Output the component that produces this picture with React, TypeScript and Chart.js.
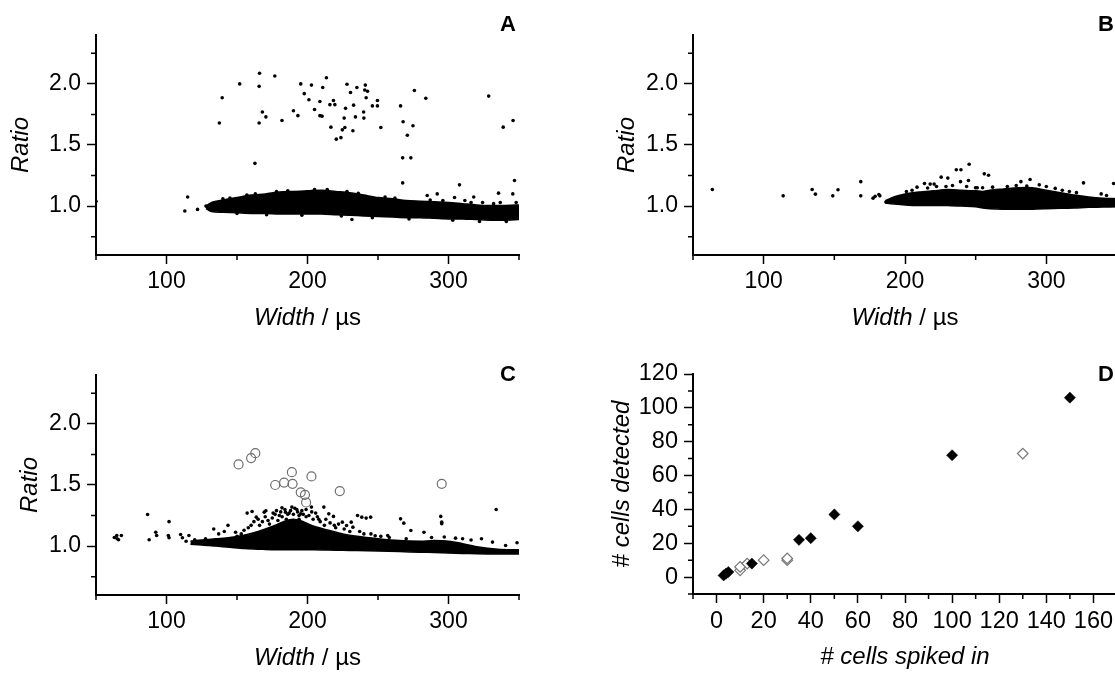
import { useEffect, useRef } from "react";
import { Chart, registerables } from "chart.js";

Chart.register(...registerables);

type Pt = [number, number];

// ---------- shared tick values ----------
const widthTicks = [100, 200, 300];
const widthMinor = [50, 150, 250, 350];
const ratioTicks = [1.0, 1.5, 2.0];
const ratioMinor = [0.75, 1.25, 1.75, 2.25];
const spikedTicks = [0, 20, 40, 60, 80, 100, 120, 140, 160];
const spikedMinor = [-10, 10, 30, 50, 70, 90, 110, 130, 150, 170];
const detectedTicks = [0, 20, 40, 60, 80, 100, 120];
const detectedMinor = [-10, 10, 30, 50, 70, 90, 110];

// ---------- Panel A ----------
const aCoreX = [128, 132, 140, 150, 160, 170, 180, 190, 200, 210, 220, 230, 240, 250, 260, 270, 280, 290, 300, 310, 320, 330, 340, 350];
const aCoreUpper = [1.0, 1.03, 1.05, 1.07, 1.09, 1.1, 1.115, 1.12, 1.125, 1.13, 1.12, 1.11, 1.09, 1.07, 1.06, 1.045, 1.04, 1.035, 1.03, 1.02, 1.01, 1.005, 1.005, 1.01];
const aCoreLower = [0.98, 0.955, 0.95, 0.945, 0.94, 0.94, 0.935, 0.935, 0.935, 0.935, 0.93, 0.925, 0.92, 0.915, 0.91, 0.905, 0.905, 0.9, 0.895, 0.895, 0.89, 0.885, 0.885, 0.89];
const aPoints: Pt[] = [
  [50, 1.04], [113, 0.96], [115, 1.074], [122, 0.973], [137.5, 1.68], [139.5, 1.886], [151.9, 2.0], [162.7, 1.35],
  [165.7, 1.98], [165.7, 1.68], [166, 2.087], [168, 1.77], [170.5, 1.73], [176.8, 2.065], [181.9, 1.7], [190, 1.78],
  [193.2, 1.74], [195.2, 2.0], [197.7, 1.92], [201, 1.87], [202.8, 1.99], [205, 1.79], [208.8, 1.856], [208.8, 1.74],
  [210.3, 1.736], [210.8, 1.97], [213.4, 2.05], [215.9, 1.83], [216.6, 1.646], [218.4, 1.864], [219.4, 1.83],
  [220.4, 1.548], [223.7, 1.56], [224.7, 1.624], [226, 1.72], [226.5, 1.643], [227, 1.8], [228, 1.997], [230.5, 1.93],
  [231.5, 0.89], [232.2, 1.616], [232.7, 1.826], [234, 1.73], [235, 1.97], [239.8, 1.77], [240, 1.72], [240.6, 1.95],
  [241, 1.99], [241.6, 1.886], [242.6, 1.94], [246, 1.82], [249.6, 1.864], [249.6, 1.82], [252, 1.643], [266, 1.82],
  [267.5, 1.395], [267.5, 1.19], [267.8, 1.69], [270.8, 1.58], [273.3, 1.395], [274.8, 1.657], [275.8, 1.946],
  [283.9, 1.883], [284.9, 1.087], [292, 1.1], [304.3, 1.07], [307.8, 1.174], [311.6, 1.046], [317.9, 1.074],
  [324.2, 1.03], [328.5, 1.9], [335.5, 1.106], [336.7, 1.03], [338.8, 1.646], [345.6, 1.1], [345.8, 1.7], [346.8, 1.21],
  [128, 1.0], [131, 0.975], [133, 1.01], [140, 1.06], [145, 1.065], [150, 0.94], [157, 1.09], [163, 1.1], [171, 0.93],
  [178, 1.12], [186, 1.125], [196, 0.925], [205, 1.135], [214, 1.135], [224, 0.92], [228, 1.12], [236, 1.105],
  [246, 0.905], [255, 1.075], [262, 1.065], [272, 0.895], [287, 1.05], [296, 1.045], [303, 0.885], [316, 1.03],
  [322, 0.875], [332, 1.02], [341, 0.875], [348, 1.03],
];

// ---------- Panel B ----------
const bCoreX = [186, 190, 195, 200, 210, 220, 230, 240, 250, 255, 260, 270, 280, 290, 300, 310, 320, 330, 340, 350];
const bCoreUpper = [1.045, 1.065, 1.085, 1.1, 1.115, 1.125, 1.135, 1.13, 1.125, 1.12, 1.13, 1.14, 1.15, 1.15, 1.13, 1.11, 1.09, 1.075, 1.065, 1.06];
const bCoreLower = [1.025, 1.02, 1.015, 1.01, 1.005, 1.005, 1.005, 1.0, 0.995, 0.985, 0.978, 0.975, 0.975, 0.975, 0.978, 0.982, 0.985, 0.99, 0.992, 0.995];
const bPoints: Pt[] = [
  [63.7, 1.136], [113.8, 1.084], [134.3, 1.136], [136.6, 1.098], [148.9, 1.084], [152.6, 1.134], [168.7, 1.2],
  [168.7, 1.084], [177.4, 1.065], [178.9, 1.08], [181.5, 1.095], [182.2, 1.084], [186.5, 1.033], [189.7, 1.05],
  [192.2, 1.05], [213.8, 1.185], [217.8, 1.18], [220.6, 1.18], [225.6, 1.237], [230.3, 1.229], [236.3, 1.297],
  [239.6, 1.297], [245.4, 1.343], [239.3, 1.2], [244.9, 1.21], [256.1, 1.264], [259.1, 1.253], [282, 1.2],
  [288.5, 1.218], [326.3, 1.19], [347.6, 1.185], [249.9, 1.15], [208.5, 1.155], [216, 1.148], [222.3, 1.16],
  [233.6, 1.169], [243.6, 1.16], [251.1, 1.15], [254.9, 1.15], [272.4, 1.16], [278.7, 1.169], [286.2, 1.165],
  [295, 1.174], [306.3, 1.145], [311.3, 1.13], [316.3, 1.12], [321.3, 1.11], [338.8, 1.1], [342.6, 1.087],
  [201, 1.12], [205, 1.13], [229, 1.16], [262, 1.155], [300, 1.16],
];

// ---------- Panel C ----------
const cCoreX = [117, 125, 135, 145, 155, 165, 175, 183, 190, 197, 205, 215, 225, 235, 250, 265, 280, 290, 300, 310, 320, 335, 350];
const cCoreUpper = [1.04, 1.05, 1.06, 1.07, 1.09, 1.12, 1.16, 1.2, 1.22, 1.2, 1.16, 1.13, 1.1, 1.08, 1.06, 1.045, 1.04, 1.045, 1.04, 1.02, 0.995, 0.975, 0.97];
const cCoreLower = [1.015, 1.01, 1.0, 0.99, 0.98, 0.975, 0.97, 0.97, 0.97, 0.97, 0.97, 0.968, 0.966, 0.964, 0.96, 0.955, 0.95, 0.948, 0.944, 0.94, 0.938, 0.935, 0.935];
const cPoints: Pt[] = [
  [63, 1.071], [64.7, 1.087], [66, 1.052], [68, 1.087], [65, 1.06],
  [86.6, 1.259], [87.7, 1.052], [92.4, 1.114], [93, 1.087], [101.8, 1.2], [101.3, 1.087], [101.8, 1.068],
  [110, 1.095], [111.3, 1.068], [113.9, 1.04], [115.9, 1.087], [120, 1.052], [123.9, 1.033], [127.7, 1.06],
  [133.5, 1.14], [137, 1.1], [141, 1.12], [143.6, 1.17], [149, 1.114], [157.2, 1.27], [160.7, 1.283], [163.7, 1.237],
  [169.3, 1.278], [170.5, 1.289], [175.6, 1.27], [178, 1.29], [181.9, 1.313], [184.4, 1.278], [188.9, 1.319],
  [192.4, 1.3], [195.2, 1.264], [202.8, 1.319], [205.8, 1.27], [211.6, 1.319], [215.1, 1.264], [218.4, 1.243],
  [224.7, 1.196], [227.7, 1.169], [231, 1.196], [232.2, 1.155], [235.5, 1.25], [238.5, 1.237], [241.6, 1.229],
  [244.8, 1.237], [256.9, 1.087], [266, 1.223], [268.3, 1.188], [273.3, 1.128], [282.6, 1.114], [294.5, 1.243],
  [295.2, 1.196], [295.2, 1.183], [288, 1.07], [297, 1.075], [305, 1.065], [310, 1.06], [316, 1.05], [323.4, 1.06],
  [331.2, 1.033], [333.8, 1.3], [340.5, 1.005], [348.6, 1.027],
  [150, 1.08], [158, 1.15], [166, 1.17], [172, 1.21], [180, 1.25], [186, 1.26], [194, 1.25], [199, 1.24],
  [208, 1.22], [212, 1.17], [220, 1.15], [230, 1.12], [240, 1.1], [248, 1.085], [258, 1.07], [270, 1.06],
  [153, 1.1], [155, 1.13], [160, 1.17], [162, 1.2], [165, 1.22], [168, 1.2], [170, 1.24], [173, 1.18],
  [175, 1.23], [177, 1.26], [179, 1.21], [181, 1.28], [182, 1.24], [184, 1.3], [185, 1.22], [187, 1.27],
  [188, 1.29], [190, 1.26], [191, 1.31], [193, 1.28], [194, 1.22], [196, 1.29], [197, 1.26], [199, 1.3],
  [201, 1.25], [203, 1.28], [204, 1.22], [207, 1.24], [209, 1.2], [213, 1.22], [216, 1.19], [219, 1.17],
  [222, 1.18], [226, 1.14], [237, 1.12], [245, 1.1], [252, 1.08],
];
const cOpen: Pt[] = [
  [151.1, 1.668], [160, 1.72], [163, 1.76], [177.1, 1.5], [183.4, 1.52], [188.9, 1.605], [189.4, 1.51],
  [195.2, 1.44], [198.2, 1.42], [199, 1.357], [202.8, 1.57], [222.9, 1.45], [295.2, 1.51],
];

// ---------- Panel D ----------
const dFilled: Pt[] = [[3, 1], [4, 2], [5, 3], [15, 8], [35, 22], [40, 23], [50, 37], [60, 30], [100, 72], [150, 106]];
const dOpen: Pt[] = [[10, 4], [10, 6], [13, 8], [20, 10], [30, 10], [30, 11], [130, 73]];

// ---------- helpers ----------
const FONT = '"Liberation Sans", Arial, Helvetica, sans-serif';
const toXY = (pts: Pt[]) => pts.map(([x, y]) => ({ x, y }));

const coreSets = (xs: number[], up: number[], lo: number[]) => [
  {
    type: "line",
    data: xs.map((x, i) => ({ x, y: up[i] })),
    borderColor: "#000",
    borderWidth: 1.5,
    backgroundColor: "#000",
    pointRadius: 0,
    tension: 0.3,
    fill: false,
    order: 3,
  },
  {
    type: "line",
    data: xs.map((x, i) => ({ x, y: lo[i] })),
    borderColor: "#000",
    borderWidth: 1.5,
    backgroundColor: "#000",
    pointRadius: 0,
    tension: 0.3,
    fill: "-1",
    order: 3,
  },
];

const dotSet = (pts: Pt[]) => ({
  type: "scatter",
  data: toXY(pts),
  pointRadius: 1.8,
  pointBackgroundColor: "#000",
  pointBorderWidth: 0,
  order: 1,
});

interface Box { left: number; top: number; width: number; height: number }
interface Area { left: number; top: number; right: number; bottom: number }
interface Spec {
  id: string;
  box: Box;
  area: Area;
  xMin: number; xMax: number; yMin: number; yMax: number;
  xMajor: number[]; xMinor: number[]; yMajor: number[]; yMinor: number[];
  xFmt: (v: number) => string; yFmt: (v: number) => string;
  tickSize: number;
  xTitle: { t: string; italic: boolean }[];
  yTitle: string; yTitleX: number;
  letter: string; letterX: number; letterY: number;
  datasets: any[];
}

const ratioFmt = (v: number) => v.toFixed(1);
const intFmt = (v: number) => String(Math.round(v));
const widthTitle = [{ t: "Width", italic: true }, { t: " / µs", italic: false }];

const specs: Spec[] = [
  {
    id: "A",
    box: { left: 0, top: 0, width: 557, height: 335 },
    area: { left: 96, top: 35, right: 519, bottom: 255 },
    xMin: 50, xMax: 350, yMin: 0.6, yMax: 2.4,
    xMajor: widthTicks, xMinor: widthMinor, yMajor: ratioTicks, yMinor: ratioMinor,
    xFmt: intFmt, yFmt: ratioFmt, tickSize: 23,
    xTitle: widthTitle, yTitle: "Ratio", yTitleX: 21,
    letter: "A", letterX: 500, letterY: 25,
    datasets: [...coreSets(aCoreX, aCoreUpper, aCoreLower), dotSet(aPoints)],
  },
  {
    id: "B",
    box: { left: 557, top: 0, width: 568, height: 335 },
    area: { left: 693, top: 35, right: 1117, bottom: 255 },
    xMin: 50, xMax: 350, yMin: 0.6, yMax: 2.4,
    xMajor: widthTicks, xMinor: widthMinor, yMajor: ratioTicks, yMinor: ratioMinor,
    xFmt: intFmt, yFmt: ratioFmt, tickSize: 23,
    xTitle: widthTitle, yTitle: "Ratio", yTitleX: 627,
    letter: "B", letterX: 1098, letterY: 25,
    datasets: [...coreSets(bCoreX, bCoreUpper, bCoreLower), dotSet(bPoints)],
  },
  {
    id: "C",
    box: { left: 0, top: 335, width: 557, height: 338 },
    area: { left: 96, top: 375, right: 519, bottom: 595 },
    xMin: 50, xMax: 350, yMin: 0.6, yMax: 2.4,
    xMajor: widthTicks, xMinor: widthMinor, yMajor: ratioTicks, yMinor: ratioMinor,
    xFmt: intFmt, yFmt: ratioFmt, tickSize: 23,
    xTitle: widthTitle, yTitle: "Ratio", yTitleX: 30,
    letter: "C", letterX: 500, letterY: 375,
    datasets: [
      {
        type: "scatter",
        data: toXY(cOpen),
        pointRadius: 4.5,
        pointBackgroundColor: "rgba(255,255,255,0)",
        pointBorderColor: "#6e6e6e",
        pointBorderWidth: 1.2,
        order: 0,
      },
      ...coreSets(cCoreX, cCoreUpper, cCoreLower),
      dotSet(cPoints),
    ],
  },
  {
    id: "D",
    box: { left: 557, top: 335, width: 568, height: 338 },
    area: { left: 693, top: 374, right: 1117, bottom: 594 },
    xMin: -10, xMax: 170, yMin: -10, yMax: 120,
    xMajor: spikedTicks, xMinor: spikedMinor, yMajor: detectedTicks, yMinor: detectedMinor,
    xFmt: intFmt, yFmt: intFmt, tickSize: 23.5,
    xTitle: [{ t: "# cells spiked in", italic: true }], yTitle: "# cells detected", yTitleX: 622,
    letter: "D", letterX: 1098, letterY: 375,
    datasets: [
      {
        type: "scatter",
        data: toXY(dOpen),
        pointStyle: "rectRot",
        pointRadius: 5.3,
        pointBackgroundColor: "#fff",
        pointBorderColor: "#777",
        pointBorderWidth: 1.2,
        order: 1,
      },
      {
        type: "scatter",
        data: toXY(dFilled),
        pointStyle: "rectRot",
        pointRadius: 5.6,
        pointBackgroundColor: "#000",
        pointBorderColor: "#000",
        pointBorderWidth: 0.5,
        order: 0,
      },
    ],
  },
];

const decorPlugin = (s: Spec) => ({
  id: "decor" + s.id,
  afterDraw(chart: any) {
    const ctx = chart.ctx as CanvasRenderingContext2D;
    const a = chart.chartArea;
    const xs = chart.scales.x;
    const ys = chart.scales.y;
    const ox = s.box.left;
    const oy = s.box.top;
    ctx.save();
    // minor ticks
    ctx.strokeStyle = "#000";
    ctx.lineWidth = 1.5;
    ctx.beginPath();
    for (const v of s.xMinor) {
      const p = xs.getPixelForValue(v);
      ctx.moveTo(p, a.bottom);
      ctx.lineTo(p, a.bottom + 5);
    }
    for (const v of s.yMinor) {
      const p = ys.getPixelForValue(v);
      ctx.moveTo(a.left, p);
      ctx.lineTo(a.left - 5, p);
    }
    ctx.stroke();
    ctx.fillStyle = "#000";
    // x title (mixed styles)
    const size = 24;
    const fontOf = (it: boolean) => `${it ? "italic " : ""}${size}px ${FONT}`;
    let total = 0;
    for (const part of s.xTitle) {
      ctx.font = fontOf(part.italic);
      total += ctx.measureText(part.t).width;
    }
    let cx = (a.left + a.right) / 2 - total / 2;
    const by = a.bottom + 70;
    ctx.textBaseline = "alphabetic";
    ctx.textAlign = "left";
    for (const part of s.xTitle) {
      ctx.font = fontOf(part.italic);
      ctx.fillText(part.t, cx, by);
      cx += ctx.measureText(part.t).width;
    }
    // y title
    ctx.save();
    ctx.translate(s.yTitleX - ox, (a.top + a.bottom) / 2);
    ctx.rotate(-Math.PI / 2);
    ctx.font = fontOf(true);
    ctx.textAlign = "center";
    ctx.textBaseline = "middle";
    ctx.fillText(s.yTitle, 0, 0);
    ctx.restore();
    // panel letter
    ctx.font = `bold 22px ${FONT}`;
    ctx.textAlign = "left";
    ctx.textBaseline = "middle";
    ctx.fillText(s.letter, s.letterX - ox, s.letterY - oy);
    ctx.restore();
  },
});

function makeConfig(s: Spec): any {
  const W = s.box.width;
  const H = s.box.height;
  const yAxisW = s.area.left - s.box.left;
  const xAxisH = s.box.top + H - s.area.bottom;
  const axisCommon = (major: number[], fmt: (v: number) => string) => ({
    type: "linear",
    afterBuildTicks: (scale: any) => {
      scale.ticks = major.map((v) => ({ value: v }));
    },
    grid: {
      drawOnChartArea: false,
      drawTicks: true,
      tickLength: 9,
      tickWidth: 1.5,
      tickColor: "#000",
    },
    border: { display: true, color: "#000", width: 2 },
    ticks: {
      autoSkip: false,
      maxRotation: 0,
      minRotation: 0,
      color: "#000",
      font: { family: FONT, size: s.tickSize },
      callback: (v: any) => fmt(Number(v)),
    },
  });
  const xAxis: any = axisCommon(s.xMajor, s.xFmt);
  xAxis.min = s.xMin;
  xAxis.max = s.xMax;
  xAxis.position = "bottom";
  xAxis.ticks.padding = 4;
  xAxis.afterFit = (scale: any) => {
    scale.height = xAxisH;
  };
  const yAxis: any = axisCommon(s.yMajor, s.yFmt);
  yAxis.min = s.yMin;
  yAxis.max = s.yMax;
  yAxis.position = "left";
  yAxis.ticks.padding = 6;
  yAxis.afterFit = (scale: any) => {
    scale.width = yAxisW;
  };
  return {
    type: "scatter",
    data: { datasets: s.datasets },
    options: {
      animation: false,
      responsive: false,
      maintainAspectRatio: false,
      devicePixelRatio: 1,
      events: [],
      layout: {
        autoPadding: false,
        padding: {
          left: 0,
          bottom: 0,
          top: s.area.top - s.box.top,
          right: s.box.left + W - s.area.right,
        },
      },
      plugins: { legend: { display: false }, tooltip: { enabled: false }, title: { display: false } },
      scales: { x: xAxis, y: yAxis },
    },
    plugins: [decorPlugin(s)],
  };
}

function Panel({ spec }: { spec: Spec }) {
  const ref = useRef<HTMLCanvasElement | null>(null);
  useEffect(() => {
    if (!ref.current) return;
    const chart = new Chart(ref.current, makeConfig(spec));
    return () => chart.destroy();
  }, [spec]);
  return (
    <canvas
      ref={ref}
      width={spec.box.width}
      height={spec.box.height}
      style={{
        position: "absolute",
        left: spec.box.left,
        top: spec.box.top,
        width: spec.box.width,
        height: spec.box.height,
      }}
    />
  );
}

export default function App() {
  return (
    <div
      style={{
        position: "fixed",
        left: 0,
        top: 0,
        width: 1115,
        height: 673,
        overflow: "hidden",
        background: "#fff",
      }}
    >
      {specs.map((s) => (
        <Panel key={s.id} spec={s} />
      ))}
    </div>
  );
}
